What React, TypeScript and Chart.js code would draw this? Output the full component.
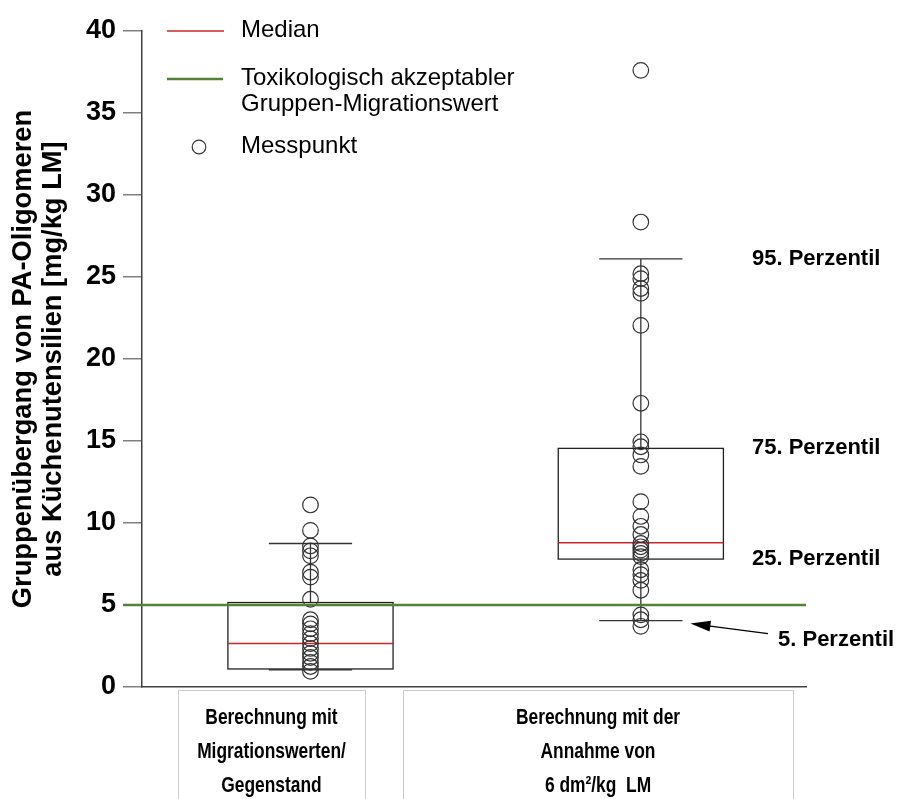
import React, { useEffect, useRef } from 'react';
import { Chart, registerables } from 'chart.js';

Chart.register(...registerables);

// ---- data ----
const categoryX = [1, 2];
const categoryLabelLines = [
  ['Berechnung mit', 'Migrationswerten/', 'Gegenstand'],
  ['Berechnung mit der', 'Annahme von', '6 dm²/kg  LM'],
];
const pointsMigration = [
  11.1, 9.55, 8.6, 8.3, 8.0, 7.0, 6.7, 5.35, 4.1, 3.85, 3.55, 3.25, 2.95, 2.65,
  2.35, 2.05, 1.8, 1.5, 1.25, 0.95,
];
const pointsAssumption = [
  37.6, 28.35, 25.2, 24.9, 24.3, 24.0, 22.05, 17.3, 14.95, 14.65, 14.15, 13.45,
  11.3, 10.4, 9.8, 9.3, 8.75, 8.55, 8.35, 8.15, 7.95, 7.15, 6.85, 6.5, 5.9, 4.4,
  4.1, 3.7,
];
const p05 = [1.05, 4.05];
const p25 = [1.1, 7.8];
const median = [2.65, 8.8];
const p75 = [5.15, 14.55];
const p95 = [8.75, 26.1];
const limitValue = 5;
const yMin = 0;
const yMax = 40;
const yStep = 5;
const yTitle = ['Gruppenübergang von PA-Oligomeren', 'aus Küchenutensilien [mg/kg LM]'];
const percentileLabels = ['95. Perzentil', '75. Perzentil', '25. Perzentil', '5. Perzentil'];
const legendLabels = ['Median', ['Toxikologisch akzeptabler', 'Gruppen-Migrationswert'], 'Messpunkt'];

// ---- styles ----
const FONT = "'Liberation Sans', Arial, sans-serif";
const RED = 'rgb(200, 40, 40)';
const GREEN = 'rgb(84, 130, 53)';
const DARK = '#333333';
const BOX_HALF = 0.25;
const CAP_HALF = 0.126;
const TICK_LEN = 19;

const boxPlugin = {
  id: 'boxPlugin',
  beforeDatasetsDraw(chart: any) {
    const { ctx, scales } = chart;
    const xs = scales.x;
    const ys = scales.y;
    ctx.save();
    for (let i = 0; i < categoryX.length; i++) {
      const cx = xs.getPixelForValue(categoryX[i]);
      const bl = xs.getPixelForValue(categoryX[i] - BOX_HALF);
      const br = xs.getPixelForValue(categoryX[i] + BOX_HALF);
      const cl = xs.getPixelForValue(categoryX[i] - CAP_HALF);
      const cr = xs.getPixelForValue(categoryX[i] + CAP_HALF);
      const y05 = ys.getPixelForValue(p05[i]);
      const y25 = ys.getPixelForValue(p25[i]);
      const y50 = ys.getPixelForValue(median[i]);
      const y75 = ys.getPixelForValue(p75[i]);
      const y95 = ys.getPixelForValue(p95[i]);
      ctx.strokeStyle = DARK;
      ctx.lineWidth = 1.3;
      ctx.beginPath();
      ctx.moveTo(cx, y95);
      ctx.lineTo(cx, y75);
      ctx.moveTo(cx, y25);
      ctx.lineTo(cx, y05);
      ctx.moveTo(cl, y95);
      ctx.lineTo(cr, y95);
      ctx.moveTo(cl, y05);
      ctx.lineTo(cr, y05);
      ctx.stroke();
      ctx.strokeStyle = '#222';
      ctx.strokeRect(bl, y75, br - bl, y25 - y75);
      ctx.strokeStyle = RED;
      ctx.lineWidth = 1.4;
      ctx.beginPath();
      ctx.moveTo(bl, y50);
      ctx.lineTo(br, y50);
      ctx.stroke();
    }
    ctx.restore();
  },
  afterDatasetsDraw(chart: any) {
    const { ctx, scales, chartArea } = chart;
    const ys = scales.y;
    const xs = scales.x;
    ctx.save();
    // limit line
    const yl = ys.getPixelForValue(limitValue);
    ctx.strokeStyle = GREEN;
    ctx.lineWidth = 2.6;
    ctx.beginPath();
    ctx.moveTo(chartArea.left - TICK_LEN, yl);
    ctx.lineTo(chartArea.right, yl);
    ctx.stroke();

    // percentile annotations (right box)
    ctx.fillStyle = '#000';
    ctx.font = `bold 22px ${FONT}`;
    ctx.textBaseline = 'middle';
    ctx.textAlign = 'left';
    const vals = [p95[1], p75[1], p25[1]];
    for (let k = 0; k < 3; k++) {
      ctx.fillText(percentileLabels[k], 752, ys.getPixelForValue(vals[k]));
    }
    const y5 = ys.getPixelForValue(p05[1]);
    ctx.fillText(percentileLabels[3], 778, y5 + 19);
    // arrow
    const capRight = xs.getPixelForValue(categoryX[1] + CAP_HALF);
    const tipX = capRight + 8;
    const tipY = y5 + 3;
    const tailX = 768;
    const tailY = y5 + 13;
    const ang = Math.atan2(tipY - tailY, tipX - tailX);
    ctx.strokeStyle = '#000';
    ctx.lineWidth = 1.4;
    ctx.beginPath();
    ctx.moveTo(tailX, tailY);
    ctx.lineTo(tipX - 14 * Math.cos(ang), tipY - 14 * Math.sin(ang));
    ctx.stroke();
    ctx.beginPath();
    ctx.moveTo(tipX, tipY);
    ctx.lineTo(tipX - 20 * Math.cos(ang) + 5.5 * Math.sin(ang), tipY - 20 * Math.sin(ang) - 5.5 * Math.cos(ang));
    ctx.lineTo(tipX - 20 * Math.cos(ang) - 5.5 * Math.sin(ang), tipY - 20 * Math.sin(ang) + 5.5 * Math.cos(ang));
    ctx.closePath();
    ctx.fillStyle = '#000';
    ctx.fill();
    ctx.restore();
  },
  afterDraw(chart: any) {
    const { ctx } = chart;
    ctx.save();
    // legend
    ctx.font = `24px ${FONT}`;
    ctx.fillStyle = '#000';
    ctx.textBaseline = 'middle';
    ctx.textAlign = 'left';
    ctx.strokeStyle = RED;
    ctx.lineWidth = 1.3;
    ctx.beginPath();
    ctx.moveTo(167, 31);
    ctx.lineTo(224, 31);
    ctx.stroke();
    ctx.fillText(legendLabels[0] as string, 241, 30);
    ctx.strokeStyle = GREEN;
    ctx.lineWidth = 2.6;
    ctx.beginPath();
    ctx.moveTo(167, 79);
    ctx.lineTo(223, 79);
    ctx.stroke();
    const l2 = legendLabels[1] as string[];
    ctx.fillText(l2[0], 241, 78);
    ctx.fillText(l2[1], 241, 104);
    ctx.strokeStyle = DARK;
    ctx.lineWidth = 1.2;
    ctx.beginPath();
    ctx.arc(199, 147, 6.8, 0, Math.PI * 2);
    ctx.stroke();
    ctx.fillText(legendLabels[2] as string, 241, 146);

    // category label cells
    const cells = [
      [178, 365],
      [403, 793],
    ];
    ctx.strokeStyle = '#cccccc';
    ctx.lineWidth = 1;
    for (let i = 0; i < cells.length; i++) {
      const [l, r] = cells[i];
      ctx.beginPath();
      ctx.moveTo(l + 0.5, 805);
      ctx.lineTo(l + 0.5, 690.5);
      ctx.lineTo(r + 0.5, 690.5);
      ctx.lineTo(r + 0.5, 805);
      ctx.stroke();
      const c = (l + r) / 2;
      ctx.fillStyle = '#000';
      ctx.font = `bold 22px ${FONT}`;
      ctx.textAlign = 'center';
      categoryLabelLines[i].forEach((line, j) => {
        ctx.save();
        ctx.translate(c, 718 + j * 34);
        ctx.scale(0.79, 1);
        ctx.fillText(line, 0, 0);
        ctx.restore();
      });
    }
    ctx.restore();
  },
};

export default function App() {
  const ref = useRef<HTMLCanvasElement>(null);
  useEffect(() => {
    const canvas = ref.current;
    if (!canvas) return;
    const scatterData = [
      ...pointsMigration.map((v) => ({ x: categoryX[0], y: v })),
      ...pointsAssumption.map((v) => ({ x: categoryX[1], y: v })),
    ];
    const chart = new Chart(canvas, {
      type: 'scatter',
      data: {
        datasets: [
          {
            label: 'Messpunkt',
            data: scatterData,
            pointRadius: 7.8,
            pointHoverRadius: 7.8,
            pointBackgroundColor: 'rgba(0,0,0,0)',
            pointBorderColor: DARK,
            pointBorderWidth: 1.2,
            showLine: false,
          },
        ],
      },
      options: {
        responsive: false,
        devicePixelRatio: 1,
        animation: false,
        events: [],
        layout: { padding: { left: 0, top: 31, right: 92, bottom: 112 } },
        plugins: { legend: { display: false }, tooltip: { enabled: false } },
        scales: {
          x: {
            type: 'linear',
            min: 0.49,
            max: 2.5,
            ticks: { display: false },
            grid: { display: false },
            border: { display: true, color: '#404040', width: 1.5 },
            afterFit: (s: any) => {
              s.height = 0;
            },
          },
          y: {
            type: 'linear',
            min: yMin,
            max: yMax,
            ticks: {
              stepSize: yStep,
              color: '#000',
              padding: 7,
              font: { family: FONT, size: 27, weight: 'bold' },
            },
            grid: {
              drawOnChartArea: false,
              drawTicks: true,
              tickLength: TICK_LEN,
              color: '#808080',
              lineWidth: 1.5,
            },
            border: { display: true, color: '#404040', width: 1.5 },
            title: {
              display: true,
              text: yTitle,
              color: '#000',
              font: { family: FONT, size: 27.3, weight: 'bold', lineHeight: 1.1 },
              padding: { top: 8, bottom: 0 },
            },
            afterFit: (s: any) => {
              s.width = 142;
            },
          },
        },
      },
      plugins: [boxPlugin],
    } as any);
    return () => chart.destroy();
  }, []);
  return (
    <div style={{ position: 'absolute', left: 0, top: 0, width: 898, height: 799, background: '#fff' }}>
      <canvas ref={ref} width={898} height={799} style={{ width: 898, height: 799, display: 'block' }} />
    </div>
  );
}
